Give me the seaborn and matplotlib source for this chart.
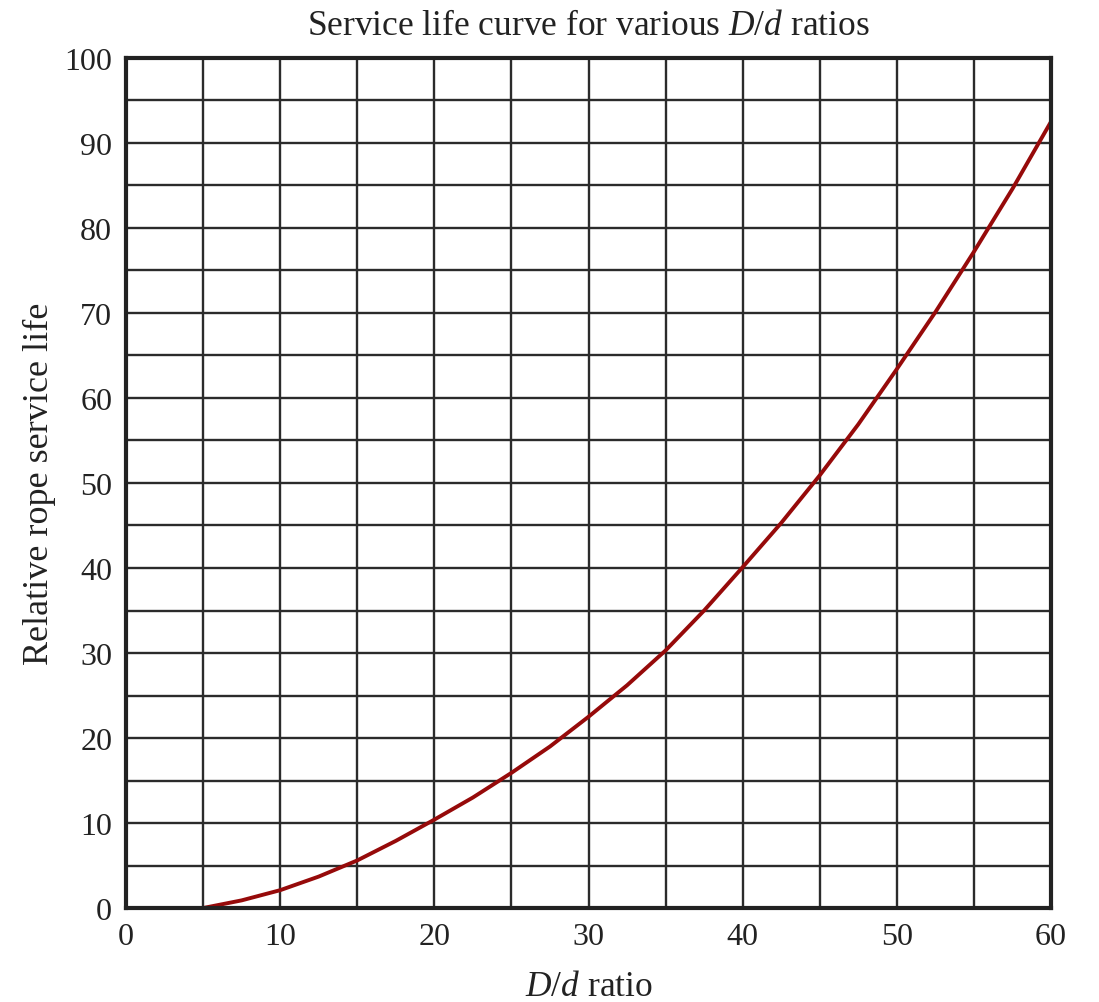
import numpy as np
import pandas as pd
import matplotlib
matplotlib.use("Agg")
import matplotlib.pyplot as plt
import seaborn as sns

# values
ratio = [5, 7.5, 10, 12.5, 15, 17.5, 20, 22.5, 25, 27.5, 30, 32.5, 35, 37.5,
         40, 42.5, 45, 47.5, 50, 52.5, 55, 57.5, 60]
life = [0, 0.9, 2.1, 3.7, 5.6, 7.9, 10.4, 13.0, 15.9, 19.0, 22.5, 26.2, 30.3, 35.0,
        40.1, 45.3, 50.9, 56.9, 63.4, 70.1, 77.2, 84.6, 92.5]

x_ticks = [0, 10, 20, 30, 40, 50, 60]
y_ticks = [0, 10, 20, 30, 40, 50, 60, 70, 80, 90, 100]

df = pd.DataFrame({"ratio": ratio, "life": life})

sns.set_style("white")
plt.rcParams["font.family"] = ["Liberation Serif", "DejaVu Serif"]
plt.rcParams["mathtext.fontset"] = "custom"
plt.rcParams["mathtext.rm"] = "Liberation Serif"
plt.rcParams["mathtext.it"] = "Liberation Serif:italic"

fig = plt.figure(figsize=(10.99, 10.03), dpi=100)
ax = fig.add_axes([0.1147, 0.0937, 0.9563 - 0.1147, 0.9412 - 0.0937])

# grid every 5 units
ax.set_xticks(np.arange(0, 61, 5), minor=True)
ax.set_yticks(np.arange(0, 101, 5), minor=True)
ax.grid(which="both", color="#2b2b2b", linewidth=1.7)
ax.set_axisbelow(True)

sns.lineplot(data=df, x="ratio", y="life", ax=ax, color="#960a0a", linewidth=2.8)

ax.set_xlim(0, 60)
ax.set_ylim(0, 100)
ax.set_xticks(x_ticks)
ax.set_yticks(y_ticks)
ax.tick_params(which="both", length=0)
ax.tick_params(axis="x", labelsize=23, pad=10, colors="#222222")
ax.tick_params(axis="y", labelsize=23, pad=10, colors="#222222")

for s in ax.spines.values():
    s.set_color("#222222")
    s.set_linewidth(3)

ax.set_xlabel(r"$D/d$ ratio", fontsize=25.5, color="#222222", labelpad=14)
ax.set_ylabel("Relative rope service life", fontsize=26, color="#222222", labelpad=6)
ax.set_title(r"Service life curve for various $D/d$ ratios", fontsize=25.5,
             color="#222222", pad=17)

fig.savefig("out.png", dpi=100)
